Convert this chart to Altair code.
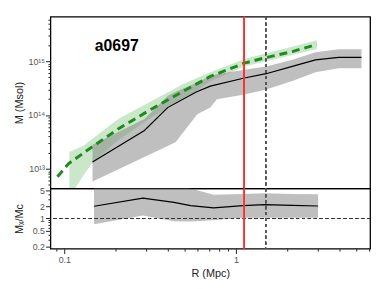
import altair as alt
import pandas as pd

# ---- top panel: X-ray style mass profile (black line + grey band)
r_prof = [0.146, 0.293, 0.400, 0.587, 0.709, 1.12, 1.50, 2.13, 2.91, 3.96, 5.39]
m_prof = [1.34e13, 5.13e13, 1.37e14, 2.67e14, 3.43e14, 4.87e14, 5.85e14, 8.0e14, 1.06e15, 1.18e15, 1.18e15]

r_band = [0.146, 0.293, 0.400, 0.446, 0.595, 0.709, 0.775, 1.12, 1.50, 2.13, 2.91, 3.96, 5.39]
m_band_hi = [2.8e13, 8.4e13, 2.25e14, 2.7e14, 4.0e14, 5.3e14, 5.7e14, 6.9e14, 8.0e14, 1.06e15, 1.46e15, 1.66e15, 1.66e15]
m_band_lo = [5.8e12, 1.65e13, 2.65e13, 3.13e13, 1.03e14, 1.37e14, 1.95e14, 2.41e14, 2.97e14, 4.3e14, 6.2e14, 7.4e14, 7.4e14]

# ---- top panel: caustic profile (green dashed + green band)
r_green = [0.0912, 0.106, 0.145, 0.206, 0.321, 0.496, 0.709, 1.12, 1.50, 2.13, 2.96]
m_green = [7.1e12, 1.25e13, 2.54e13, 5.5e13, 1.28e14, 2.78e14, 5.2e14, 9.2e14, 1.17e15, 1.51e15, 2.05e15]

r_gband = [0.107, 0.130, 0.146, 0.206, 0.321, 0.496, 0.709, 1.12, 1.50, 2.13, 2.96]
gb_hi = [2.05e13, 2.7e13, 3.6e13, 8.4e13, 1.8e14, 3.8e14, 6.2e14, 1.1e15, 1.4e15, 1.85e15, 2.46e15]
gb_lo = [3.0e12, 7.7e12, 1.3e13, 3.4e13, 9.0e13, 1.95e14, 4.25e14, 8.0e14, 1.0e15, 1.3e15, 1.68e15]

# ---- bottom panel: ratio
r_ratio = [0.149, 0.287, 0.436, 0.544, 0.741, 1.10, 1.47, 2.13, 3.01]
ratio = [2.02, 3.22, 2.53, 2.10, 1.83, 2.10, 2.22, 2.13, 2.05]
ratio_hi = [7.0, 7.0, 7.0, 5.6, 3.9, 4.1, 4.26, 4.1, 4.03]
ratio_lo = [0.72, 1.18, 0.86, 0.84, 0.90, 1.05, 1.05, 1.05, 1.05]

r_red = 1.12
r_dash = 1.49
cluster = "a0697"

x_dom = [0.083, 6.05]
y_dom = [4.3e12, 6.7e15]
q_dom = [0.178, 5.6]

x_ticks = [0.09, 0.1, 0.2, 0.3, 0.4, 0.5, 0.6, 0.7, 0.8, 0.9, 1, 2, 3, 4, 5, 6]
y_ticks = [m * 10 ** e for e in (12, 13, 14, 15) for m in range(1, 10)]
y_ticks = [v for v in y_ticks if y_dom[0] <= v <= y_dom[1]]
q_ticks = [0.2, 0.3, 0.4, 0.5, 0.6, 0.7, 0.8, 0.9, 1, 2, 3, 4, 5]

FONT = "Liberation Sans"
W, H_TOP, H_BOT = 324, 174, 61

df_prof = pd.DataFrame({"r": r_prof, "m": m_prof})
df_band = pd.DataFrame({"r": r_band, "lo": m_band_lo, "hi": m_band_hi})
df_green = pd.DataFrame({"r": r_green, "m": m_green})
df_gband = pd.DataFrame({"r": r_gband, "lo": gb_lo, "hi": gb_hi})
df_ratio = pd.DataFrame({"r": r_ratio, "q": ratio, "lo": ratio_lo, "hi": ratio_hi})

xs = alt.Scale(type="log", domain=x_dom, nice=False)
ys = alt.Scale(type="log", domain=y_dom, nice=False)
qs = alt.Scale(type="log", domain=q_dom, nice=False)

major_tick = {"condition": {"test": "abs(log(datum.value)/log(10) - round(log(datum.value)/log(10))) < 0.001", "value": 5}, "value": 2.5}
q_major_tick = {"condition": {"test": "indexof([0.2,0.5,1,2,5], datum.value) >= 0", "value": 5}, "value": 2.5}

x_axis_bottom = alt.Axis(values=x_ticks, title="R  (Mpc)", domain=False,
                         labelExpr="datum.value == 0.1 ? '0.1' : (datum.value == 1 ? '1' : '')",
                         tickSize=major_tick, tickColor="#222", labelFontSize=9, labelColor="#555",
                         labelFont=FONT, titleFont=FONT, titleFontSize=11, titleFontWeight="normal",
                         titleColor="#222", labelPadding=2, titlePadding=3, grid=False)

y_axis_top = alt.Axis(values=y_ticks, title="M  (Msol)", domain=False,
                      labelExpr="datum.value == 1e13 ? '10¹³' : (datum.value == 1e14 ? '10¹⁴' : (datum.value == 1e15 ? '10¹⁵' : ''))",
                      tickSize=major_tick, tickColor="#222", labelFontSize=9, labelColor="#555",
                      labelFont=FONT, titleFont=FONT, titleFontSize=11, titleFontWeight="normal",
                      titleColor="#222", labelPadding=1, titleX=-31, titleBaseline="middle", grid=False)

y_axis_bot = alt.Axis(values=q_ticks, title="Mₓ/Mc", domain=False,
                      labelExpr="indexof([0.2,0.5,1,2,5], datum.value) >= 0 ? format(datum.value, '') : ''",
                      tickSize=q_major_tick, tickColor="#222", labelFontSize=9, labelColor="#555",
                      labelFont=FONT, titleFont=FONT, titleFontSize=11, titleFontWeight="normal",
                      titleColor="#222", labelPadding=1, titleX=-31, titleBaseline="middle", grid=False)

xt = alt.X("r:Q", scale=xs, axis=None)

gband = alt.Chart(df_gband).mark_area(color="#2ca02c", opacity=0.25, clip=True).encode(
    x=xt, y=alt.Y("lo:Q", scale=ys, axis=y_axis_top), y2="hi:Q")
band = alt.Chart(df_band).mark_area(color="#808080", opacity=0.5, clip=True).encode(
    x=xt, y=alt.Y("lo:Q", scale=ys), y2="hi:Q")
prof = alt.Chart(df_prof).mark_line(color="black", strokeWidth=1.2, clip=True).encode(
    x=xt, y=alt.Y("m:Q", scale=ys))
green = alt.Chart(df_green).mark_line(color="#1f8a1f", strokeWidth=3, strokeDash=[8, 5], clip=True).encode(
    x=xt, y=alt.Y("m:Q", scale=ys))
red_top = alt.Chart(df_prof).mark_rule(color="#ff3030", strokeWidth=1.2).encode(x=alt.datum(r_red, scale=xs))
dash_top = alt.Chart(df_prof).mark_rule(color="#555", strokeWidth=1.2, strokeDash=[3, 3]).encode(x=alt.datum(r_dash, scale=xs))
label = alt.Chart(pd.DataFrame({"t": [cluster]})).mark_text(
    font=FONT, fontSize=16, fontWeight="bold", align="left", baseline="alphabetic", color="black"
).encode(text="t:N", x=alt.value(45), y=alt.value(35))

top = alt.layer(gband, band, prof, green, red_top, dash_top, label).properties(width=W, height=H_TOP)

xb = alt.X("r:Q", scale=xs, axis=x_axis_bottom)
rband = alt.Chart(df_ratio).mark_area(color="#808080", opacity=0.5, clip=True).encode(
    x=xb, y=alt.Y("lo:Q", scale=qs, axis=y_axis_bot), y2="hi:Q")
rline = alt.Chart(df_ratio).mark_line(color="black", strokeWidth=1.2, clip=True).encode(
    x=xb, y=alt.Y("q:Q", scale=qs))
one = alt.Chart(df_ratio).mark_rule(color="#333", strokeWidth=1, strokeDash=[3, 3]).encode(y=alt.datum(1, scale=qs))
red_bot = alt.Chart(df_ratio).mark_rule(color="#ff3030", strokeWidth=1.2).encode(x=alt.datum(r_red, scale=xs))
dash_bot = alt.Chart(df_ratio).mark_rule(color="#555", strokeWidth=1.2, strokeDash=[3, 3]).encode(x=alt.datum(r_dash, scale=xs))

bottom = alt.layer(rband, one, rline, red_bot, dash_bot).properties(width=W, height=H_BOT)

chart = alt.vconcat(top, bottom, spacing=0, bounds="flush", background="white").resolve_scale(x="shared").configure_view(
    stroke="black", strokeWidth=1.3
)

chart.save("out.html", embed_options={"renderer": "svg", "actions": False})
